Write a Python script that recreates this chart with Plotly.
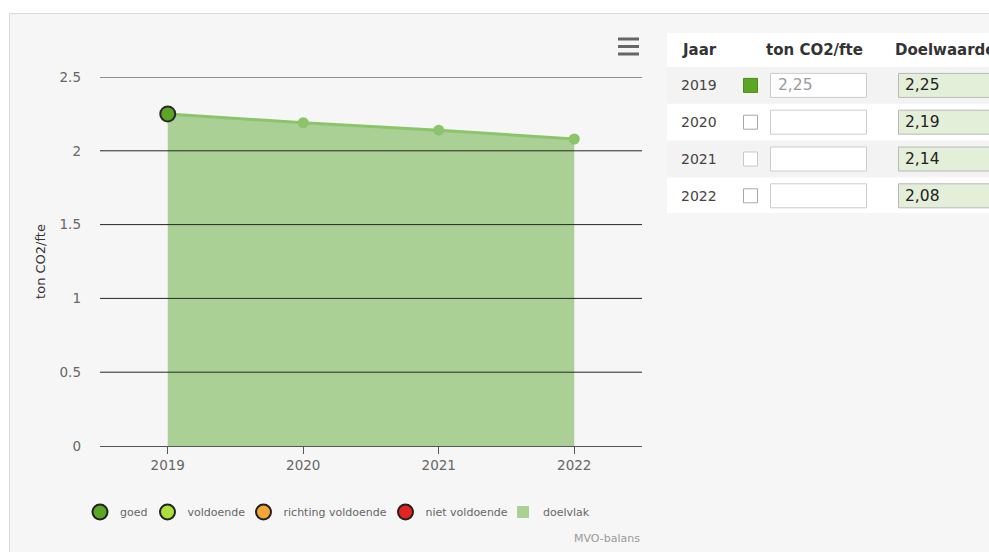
import plotly.graph_objects as go

# ---------------- data ----------------
years = ["2019", "2020", "2021", "2022"]
doelwaarde = [2.25, 2.19, 2.14, 2.08]          # target area (doelvlak)
gemeten = [2.25, None, None, None]             # measured value ton CO2/fte
status = ["goed", None, None, None]            # status of measured value
y_ticks = [0, 0.5, 1, 1.5, 2, 2.5]

status_names = ["goed", "voldoende", "richting voldoende", "niet voldoende"]
status_colors = ["#5ca626", "#a9e03a", "#f5a53a", "#e3241f"]

table_headers = ["Jaar", "ton CO2/fte", "Doelwaarde"]

# ---------------- layout helpers (pixel -> paper) ----------------
W, H = 989, 552
L, R, T, B = 100, 642, 77, 446


def xp(px):
    return (px - L) / (R - L)


def yp(py):
    return (B - py) / (B - T)


def fmt(v):
    return f"{v:.2f}".replace(".", ",")


FONT = "DejaVu Sans"
fill_col = "#abd096"
line_col = "#8cc46b"

fig = go.Figure()

# doelvlak area
fig.add_trace(go.Scatter(
    x=years, y=doelwaarde, mode="lines+markers", fill="tozeroy",
    fillcolor=fill_col, line=dict(color=line_col, width=3),
    marker=dict(color=line_col, size=11), showlegend=False,
    hoverinfo="skip"))

# measured values
sc = dict(zip(status_names, status_colors))
mx = [y for y, v in zip(years, gemeten) if v is not None]
my = [v for v in gemeten if v is not None]
mc = [sc[s] for s, v in zip(status, gemeten) if v is not None]
fig.add_trace(go.Scatter(
    x=mx, y=my, mode="markers",
    marker=dict(color=mc, size=15, line=dict(color="#2a2a2a", width=2)),
    showlegend=False))

# legend entries, one legend box per entry so each can be placed
legend_ids = ["legend", "legend2", "legend3", "legend4", "legend5"]
legend_px = [98.5, 166, 262, 404, 521.5]   # symbol centres (px)
for i, (name, col) in enumerate(zip(status_names, status_colors)):
    fig.add_trace(go.Scatter(
        x=[None], y=[None], mode="markers", name=name, legend=legend_ids[i],
        marker=dict(color=col, size=15, line=dict(color="#222", width=2))))
fig.add_trace(go.Scatter(
    x=[None], y=[None], mode="markers", name="doelvlak", legend=legend_ids[4],
    marker=dict(color=fill_col, size=12, symbol="square", line=dict(width=0))))

shapes = []
annotations = []

# outer container box
shapes.append(dict(type="rect", xref="paper", yref="paper", layer="below",
                   x0=xp(9.5), x1=xp(1010), y0=yp(13.5), y1=yp(580),
                   fillcolor="#f6f6f6", line=dict(color="#dadada", width=1)))

# gridlines drawn above the area
for t in y_ticks[1:]:
    shapes.append(dict(type="line", xref="paper", yref="y", layer="above",
                       x0=0, x1=1, y0=t, y1=t,
                       line=dict(color="#262626", width=1)))

# hamburger menu icon
for cy in (39, 46.5, 54):
    shapes.append(dict(type="rect", xref="paper", yref="paper", layer="above",
                       x0=xp(618), x1=xp(639), y0=yp(cy - 1.5), y1=yp(cy + 1.5),
                       fillcolor="#666666", line=dict(width=0)))

# table panel
shapes.append(dict(type="rect", xref="paper", yref="paper", layer="below",
                   x0=xp(667), x1=xp(1010), y0=yp(33), y1=yp(213),
                   fillcolor="#ffffff", line=dict(width=0)))

hdr_x = [680, 764, 893]
for hx, txt in zip(hdr_x, table_headers):
    annotations.append(dict(xref="paper", yref="paper", x=xp(hx), y=yp(50),
                            xanchor="left", yanchor="middle", showarrow=False,
                            text=f"<b>{txt}</b>",
                            font=dict(family=FONT, size=15, color="#333333")))

row_top = 67
row_h = 36.8
for i, yr in enumerate(years):
    y0 = row_top + i * row_h
    y1 = y0 + row_h
    cy = (y0 + y1) / 2
    if i % 2 == 0:
        shapes.append(dict(type="rect", xref="paper", yref="paper", layer="below",
                           x0=xp(667), x1=xp(1010), y0=yp(y0), y1=yp(y1),
                           fillcolor="#f3f3f3", line=dict(width=0)))
    annotations.append(dict(xref="paper", yref="paper", x=xp(679), y=yp(cy),
                            xanchor="left", yanchor="middle", showarrow=False,
                            text=yr, font=dict(family=FONT, size=14, color="#444444")))
    # checkbox
    if status[i] is not None:
        cb_fill, cb_line = sc[status[i]], "#4d8a17"
    else:
        cb_fill, cb_line = "#ffffff", "#a8a8a8" if i != 2 else "#c8c8c8"
    shapes.append(dict(type="rect", xref="paper", yref="paper", layer="above",
                       x0=xp(743.5), x1=xp(757.5), y0=yp(cy - 7), y1=yp(cy + 7),
                       fillcolor=cb_fill, line=dict(color=cb_line, width=1)))
    # input box
    shapes.append(dict(type="rect", xref="paper", yref="paper", layer="above",
                       x0=xp(770.5), x1=xp(866.5), y0=yp(cy - 12), y1=yp(cy + 12),
                       fillcolor="#ffffff", line=dict(color="#cccccc", width=1)))
    if gemeten[i] is not None:
        annotations.append(dict(xref="paper", yref="paper", x=xp(776), y=yp(cy),
                                xanchor="left", yanchor="middle", showarrow=False,
                                text=fmt(gemeten[i]),
                                font=dict(family=FONT, size=15.5, color="#9a9a9a")))
    # target box
    shapes.append(dict(type="rect", xref="paper", yref="paper", layer="above",
                       x0=xp(898.5), x1=xp(1010), y0=yp(cy - 12), y1=yp(cy + 12),
                       fillcolor="#e3efd9", line=dict(color="#b8b8b8", width=1)))
    annotations.append(dict(xref="paper", yref="paper", x=xp(903), y=yp(cy),
                            xanchor="left", yanchor="middle", showarrow=False,
                            text=fmt(doelwaarde[i]),
                            font=dict(family=FONT, size=15.5, color="#222222")))

# credits
annotations.append(dict(xref="paper", yref="paper", x=xp(642), y=yp(538.5),
                        xanchor="right", yanchor="middle", showarrow=False,
                        text="MVO-balans",
                        font=dict(family=FONT, size=11, color="#999999")))

legend_common = dict(orientation="h", xanchor="left", y=yp(512),
                     yanchor="middle",
                     font=dict(family=FONT, size=11, color="#666666"),
                     bgcolor="rgba(0,0,0,0)", itemwidth=30)
legends = {lid: dict(legend_common, x=xp(cx - 20 + 1.5))
           for lid, cx in zip(legend_ids, legend_px)}

fig.update_layout(
    width=W, height=H,
    margin=dict(l=L, r=W - R, t=T, b=H - B, autoexpand=False),
    paper_bgcolor="#ffffff", plot_bgcolor="rgba(0,0,0,0)",
    font=dict(family=FONT, color="#666666"),
    shapes=shapes, annotations=annotations,
    hovermode=False,
    **legends,
)
fig.update_xaxes(type="category", range=[-0.5, 3.5], showgrid=False,
                 showline=True, linecolor="#555555", linewidth=1,
                 ticks="outside", ticklen=7, tickcolor="#555555",
                 tickfont=dict(family=FONT, size=13.5, color="#666666"),
                 zeroline=False, fixedrange=True)
fig.update_yaxes(range=[0, 2.5], tickvals=y_ticks, showgrid=False,
                 zeroline=False, ticks="", ticklabelstandoff=18,
                 tickfont=dict(family=FONT, size=13.5, color="#666666"),
                 title=dict(text="ton CO2/fte", standoff=10,
                            font=dict(family=FONT, size=13, color="#333333")),
                 fixedrange=True)

fig.write_html("out.html", config={"displayModeBar": False})
